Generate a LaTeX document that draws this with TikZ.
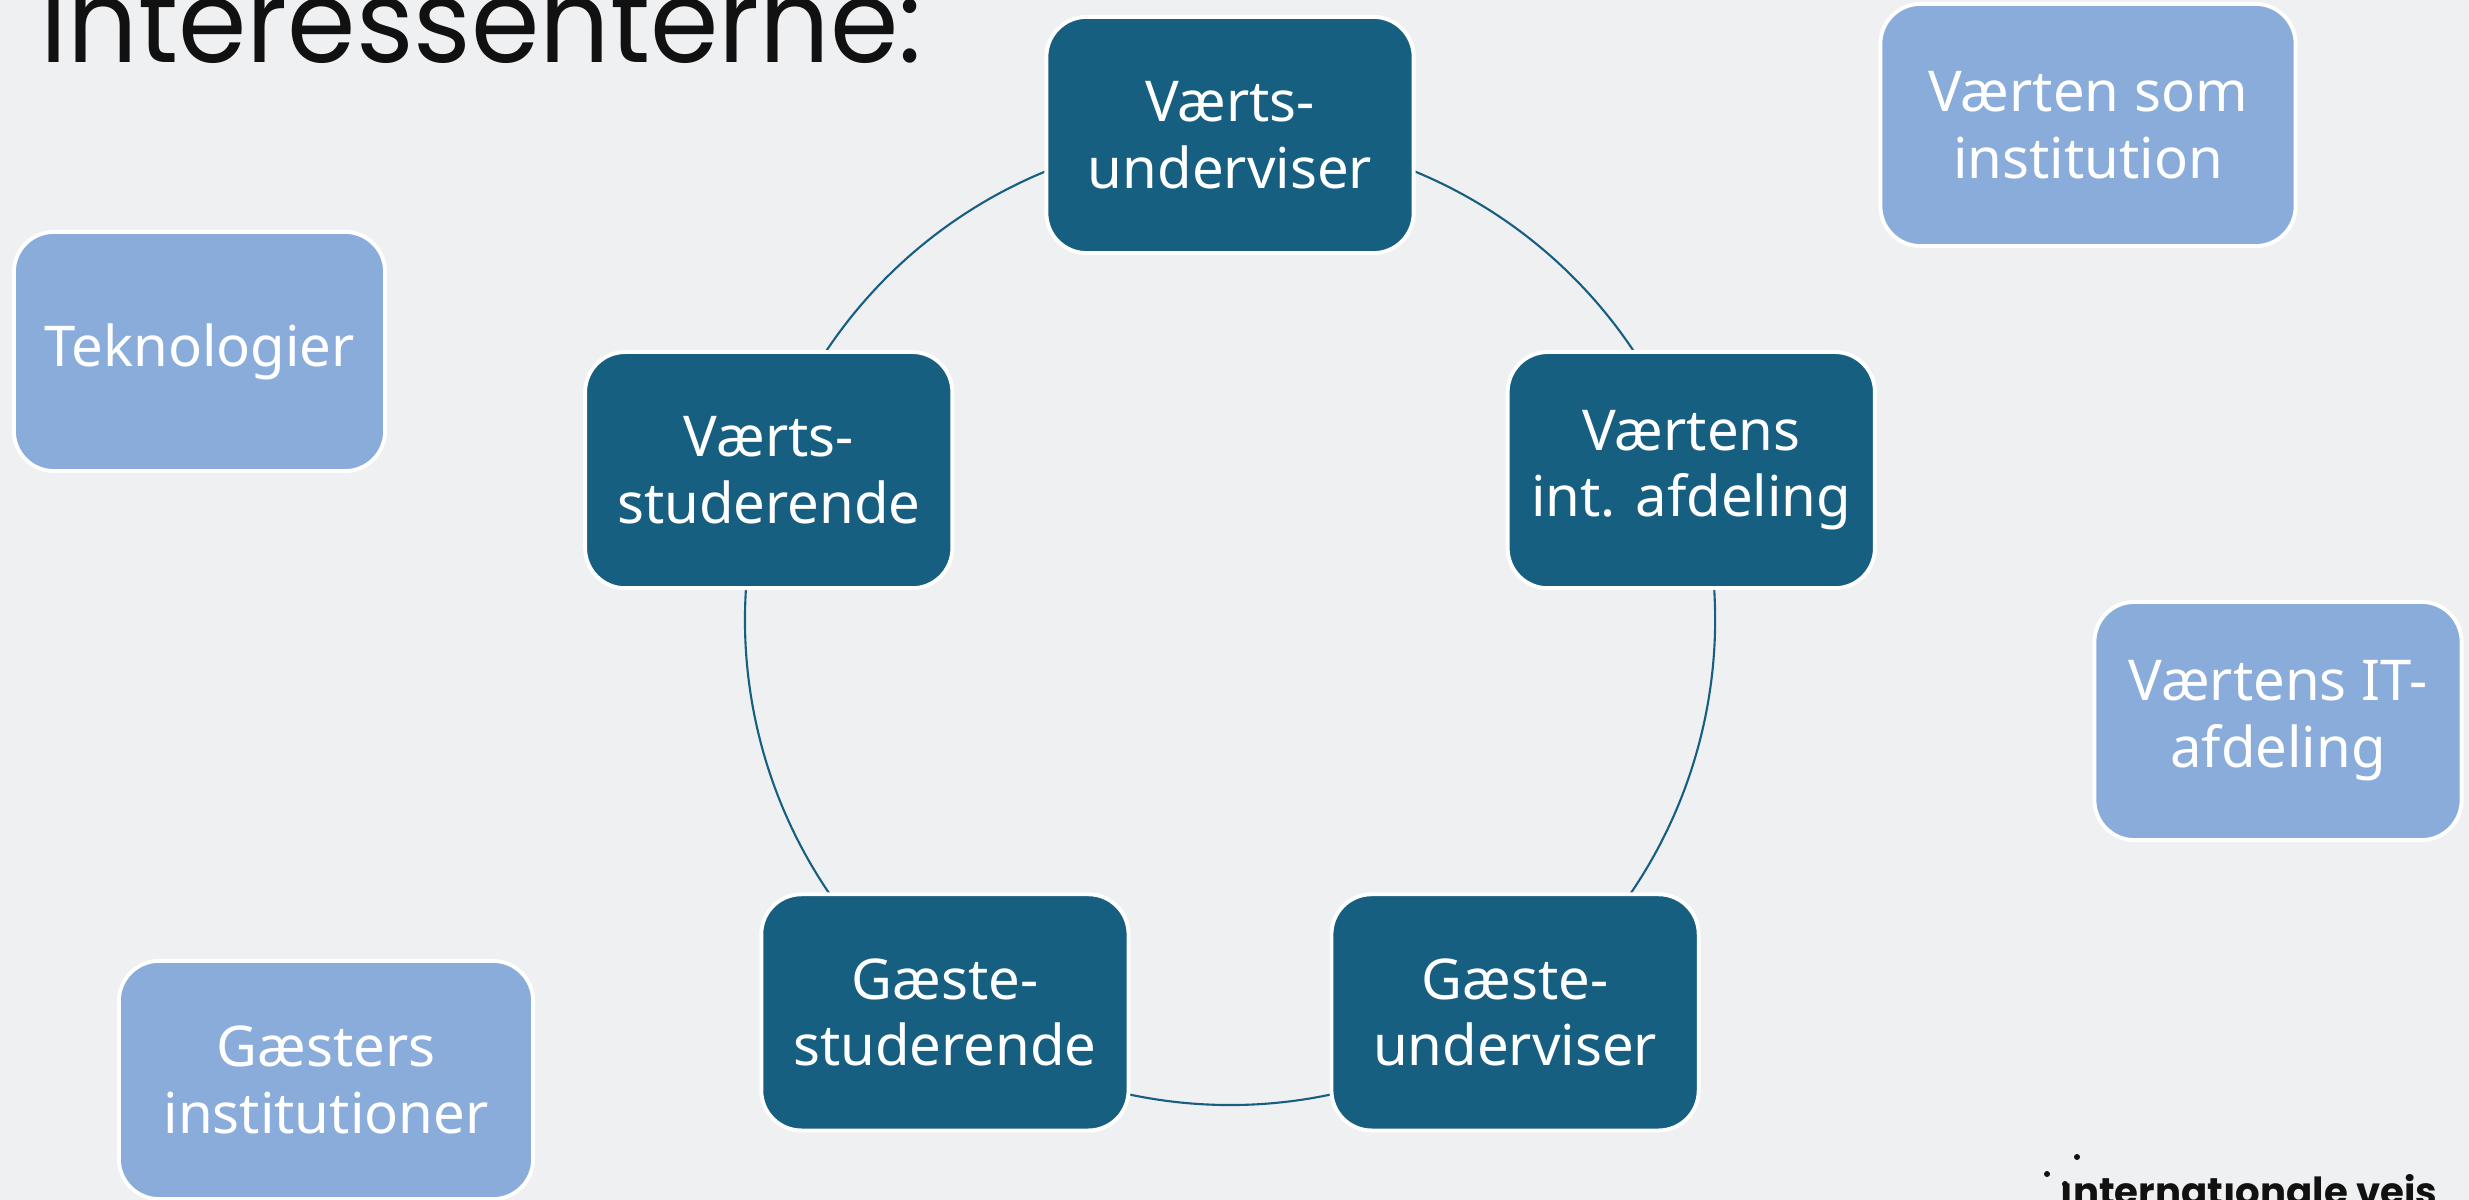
\documentclass[tikz,border=0pt]{standalone}
\usepackage{fontspec}
\setmainfont{Noto Sans}
\newfontfamily\titlefont{Poppins}
\usetikzlibrary{calc,backgrounds}
\definecolor{bg}{HTML}{EFF0F2}
\definecolor{darkblue}{HTML}{175F80}
\definecolor{lightblue}{HTML}{8AACDA}
\definecolor{ink}{HTML}{111111}
\begin{document}
\begin{tikzpicture}[x=0.01cm,y=0.01cm,
  box/.style={draw=white,line width=1.1pt,rounded corners=0.4cm,text=white,align=center,
    font=\fontsize{16}{19}\selectfont,inner sep=0pt},
  darkbox/.style={box,fill=darkblue,minimum width=3.67cm,minimum height=2.36cm},
  lightbox/.style={box,fill=lightblue},
  link/.style={draw=darkblue,line width=0.6pt},
  dot/.style={fill=ink,circle,inner sep=0pt,minimum size=0.06cm}]
\useasboundingbox (0,0) rectangle (2469,1200);
\clip (0,0) rectangle (2469,1200);
\coordinate (c) at (1230,580);
% title
\node[anchor=base west,inner sep=0pt,text=ink,xscale=0.95,font=\titlefont\fontsize{33}{40}\selectfont] (title) at (40,1137) {Interessenterne:};
% cycle boxes
\node[darkbox] (n1) at ($(c)+(90:485)$) {Værts-\\underviser};
\node[darkbox] (n2) at ($(c)+(18:485)$) {Værtens\\int. afdeling};
\node[darkbox] (n3) at ($(c)+(162:485)$) {Værts-\\studerende};
\node[darkbox] (n4) at ($(c)+(234:485)$) {Gæste-\\studerende};
\node[darkbox] (n5) at ($(c)+(306:485)$) {Gæste-\\underviser};
% outer boxes
\node[lightbox,minimum width=3.71cm,minimum height=2.39cm] (tek) at (199.5,848.5) {Teknologier};
\node[lightbox,minimum width=4.15cm,minimum height=2.42cm] (vsi) at (2088,1075) {Værten som\\institution};
\node[lightbox,minimum width=3.67cm,minimum height=2.38cm] (vit) at (2278,479) {Værtens IT-\\afdeling};
\node[lightbox,minimum width=4.14cm,minimum height=2.38cm] (gi) at (326,120) {Gæsters\\institutioner};
% logo
\node[dot] (d1) at (2077,43) {};
\node[dot] (d2) at (2047,26) {};
\node[dot] (d3) at (2065,16) {};
\node[anchor=base west,inner sep=0pt,text=ink,font=\titlefont\bfseries\fontsize{11}{13}\selectfont] (logo) at (2060,-6) {ınternatıonale vejs};
% connectors
\begin{pgfonlayer}{background}
\fill[bg] (0,0) rectangle (2469,1200);
\draw[link] (n1.center) arc[start angle=90,end angle=162,radius=4.85cm];
\draw[link] (n3.center) arc[start angle=162,end angle=234,radius=4.85cm];
\draw[link] (n4.center) arc[start angle=234,end angle=306,radius=4.85cm];
\draw[link] (n5.center) arc[start angle=306,end angle=378,radius=4.85cm];
\draw[link] (n2.center) arc[start angle=18,end angle=90,radius=4.85cm];
\end{pgfonlayer}
\end{tikzpicture}
\end{document}
